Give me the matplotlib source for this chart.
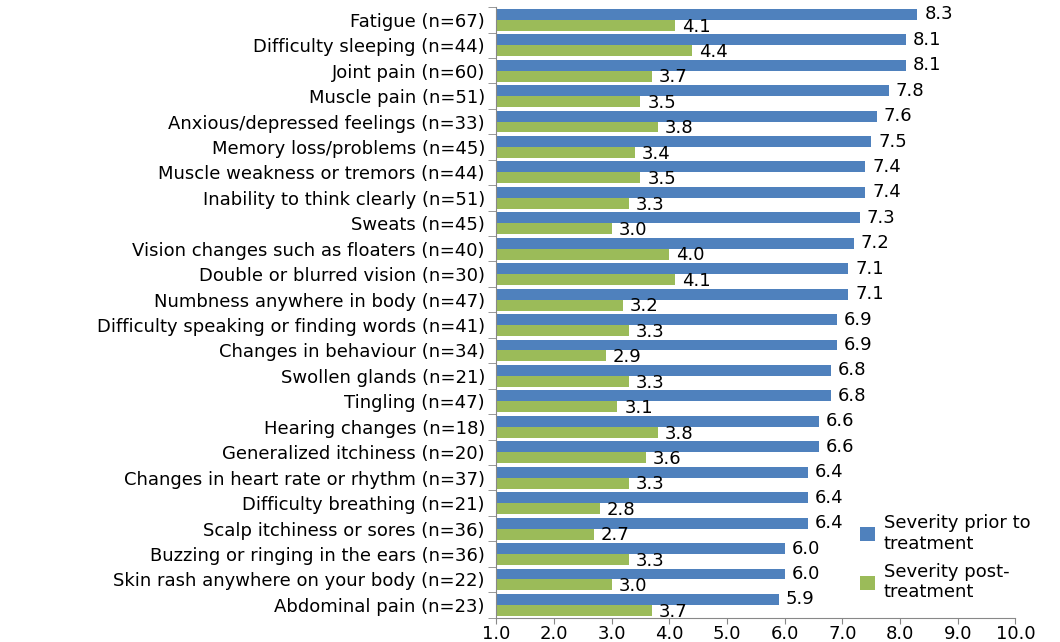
import numpy as np
import matplotlib.pyplot as plt

symptoms = [
    'Fatigue (n=67)', 'Difficulty sleeping (n=44)', 'Joint pain (n=60)',
    'Muscle pain (n=51)', 'Anxious/depressed feelings (n=33)',
    'Memory loss/problems (n=45)', 'Muscle weakness or tremors (n=44)',
    'Inability to think clearly (n=51)', 'Sweats (n=45)',
    'Vision changes such as floaters (n=40)', 'Double or blurred vision (n=30)',
    'Numbness anywhere in body (n=47)', 'Difficulty speaking or finding words (n=41)',
    'Changes in behaviour (n=34)', 'Swollen glands (n=21)', 'Tingling (n=47)',
    'Hearing changes (n=18)', 'Generalized itchiness (n=20)',
    'Changes in heart rate or rhythm (n=37)', 'Difficulty breathing (n=21)',
    'Scalp itchiness or sores (n=36)', 'Buzzing or ringing in the ears (n=36)',
    'Skin rash anywhere on your body (n=22)', 'Abdominal pain (n=23)',
]
prior = [8.3, 8.1, 8.1, 7.8, 7.6, 7.5, 7.4, 7.4, 7.3, 7.2, 7.1, 7.1,
         6.9, 6.9, 6.8, 6.8, 6.6, 6.6, 6.4, 6.4, 6.4, 6.0, 6.0, 5.9]
post = [4.1, 4.4, 3.7, 3.5, 3.8, 3.4, 3.5, 3.3, 3.0, 4.0, 4.1, 3.2,
        3.3, 2.9, 3.3, 3.1, 3.8, 3.6, 3.3, 2.8, 2.7, 3.3, 3.0, 3.7]
xticks = [1.0, 2.0, 3.0, 4.0, 5.0, 6.0, 7.0, 8.0, 9.0, 10.0]

blue = '#4F81BD'
green = '#9BBB59'
base = 1.0
fs = 13

plt.rcParams['font.family'] = ['DejaVu Sans']
fig = plt.figure(figsize=(10.6, 6.42), dpi=100)
ax = fig.add_axes([0.468, 0.038, 0.49, 0.951])

y = np.arange(len(symptoms))
h = 0.43
prior_w = [v - base for v in prior]
post_w = [v - base for v in post]
ax.barh(y - h / 2, prior_w, height=h, left=base, color=blue, label='Severity prior to\ntreatment')
ax.barh(y + h / 2, post_w, height=h, left=base, color=green, label='Severity post-\ntreatment')

for i in range(len(symptoms)):
    ax.text(prior[i] + 0.12, y[i] - h / 2, f'{prior[i]:.1f}', va='center', ha='left', fontsize=fs)
    ax.text(post[i] + 0.12, y[i] + h / 2 + 0.05, f'{post[i]:.1f}', va='center', ha='left', fontsize=fs)

ax.set_xlim(1.0, 10.0)
ax.set_ylim(len(symptoms) - 0.5, -0.5)
ax.set_xticks(xticks)
ax.set_xticklabels([f'{t:.1f}' for t in xticks], fontsize=fs)

# category labels sit between the tick marks on the left spine
ax.set_yticks(y)
ax.set_yticklabels(symptoms, fontsize=fs)
ax.tick_params(axis='y', length=0, pad=8)
ax.set_yticks(np.arange(-0.5, len(symptoms), 1.0), minor=True)
ax.tick_params(axis='y', which='minor', length=6, color='#888888')
ax.tick_params(axis='x', length=4, pad=1, color='#888888')

for side in ['top', 'right']:
    ax.spines[side].set_visible(False)
ax.spines['left'].set_color('#888888')
ax.spines['bottom'].set_color('#888888')

ax.legend(loc='lower left', bbox_to_anchor=(0.67, 0.0), frameon=False, fontsize=fs,
          handlelength=0.8, handleheight=0.8, handletextpad=0.5, labelspacing=0.55)

fig.savefig('out.png', dpi=100)
